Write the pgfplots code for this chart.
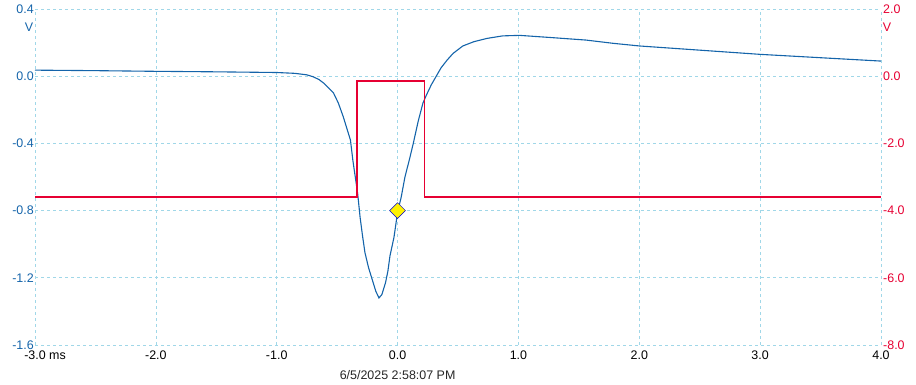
\documentclass[border=0pt]{standalone}
\usepackage{fontspec}
\setmainfont{Liberation Sans}
\usepackage{pgfplots}
\pgfplotsset{compat=1.18}
\definecolor{cblue}{RGB}{20,100,170}
\definecolor{cred}{RGB}{230,0,50}
\definecolor{cgrid}{RGB}{160,215,232}
\newcommand{\tf}{\fontsize{12.5}{15}\selectfont}
\begin{document}
\begin{tikzpicture}
\useasboundingbox (-35bp,-40bp) rectangle (881bp,345bp);
\begin{axis}[
  at={(0,0)}, anchor=south west,
  scale only axis, width=846bp, height=336bp,
  xmin=-3, xmax=4, ymin=-1.6, ymax=0.4,
  axis line style={draw=none},
  major tick length=0pt,
  grid=major,
  major grid style={cgrid, dash pattern=on 3bp off 3bp, line width=0.6bp},
  xtick={-3,-2,-1,0,1,2,3,4},
  xticklabels={-3.0\rlap{ ms},-2.0,-1.0,0.0,1.0,2.0,3.0,4.0},
  ytick={-1.6,-1.2,-0.8,-0.4,0,0.4},
  yticklabels={-1.6,-1.2,-0.8,-0.4,0.0,0.4},
  xticklabel style={font=\tf, text=black, inner sep=1bp, yshift=-5bp},
  yticklabel style={font=\tf, text=cblue, inner sep=1bp},
  clip=false,
]
\addplot[cblue, line width=1.1bp] coordinates {
(-3.0,0.036) (-2.5,0.033) (-2.0,0.029) (-1.5,0.026) (-1.0,0.022)
(-0.85,0.017) (-0.75,0.008) (-0.70,-0.003) (-0.65,-0.02) (-0.61,-0.042)
(-0.57,-0.07) (-0.53,-0.10) (-0.49,-0.16) (-0.45,-0.24) (-0.42,-0.31)
(-0.39,-0.38) (-0.37,-0.50) (-0.35,-0.60) (-0.33,-0.70) (-0.31,-0.84)
(-0.29,-0.95) (-0.27,-1.05) (-0.24,-1.14) (-0.21,-1.21) (-0.18,-1.28)
(-0.154,-1.32) (-0.13,-1.30) (-0.10,-1.23) (-0.08,-1.16) (-0.063,-1.07)
(-0.03,-0.96) (0.0,-0.81) (0.03,-0.72) (0.061,-0.60) (0.10,-0.49)
(0.13,-0.40) (0.17,-0.27) (0.21,-0.16) (0.24,-0.11) (0.28,-0.05)
(0.32,0.00) (0.36,0.05) (0.41,0.096) (0.46,0.136) (0.54,0.18)
(0.63,0.205) (0.74,0.225) (0.87,0.24) (1.01,0.243) (1.29,0.229)
(1.56,0.215) (1.78,0.196) (2.0,0.18) (2.5,0.155) (3.0,0.13)
(3.5,0.11) (4.0,0.09)
};
\addplot[only marks, mark=square*, mark size=5.6bp,
  mark options={rotate=45, fill=yellow, draw=blue!80!black, line width=0.5bp}]
  coordinates {(0,-0.80)};
\end{axis}
\begin{axis}[
  at={(0,0)}, anchor=south west,
  scale only axis, width=846bp, height=336bp,
  xmin=-3, xmax=4, ymin=-8, ymax=2,
  axis x line=none,
  axis y line*=right,
  axis line style={draw=none},
  major tick length=0pt,
  ytick={-8,-6,-4,-2,0,2},
  yticklabels={-8.0,-6.0,-4.0,-2.0,0.0,2.0},
  yticklabel style={font=\tf, text=cred, inner sep=1bp, xshift=1bp},
]
\addplot[cred, line width=1.6bp] coordinates {
(-3.0,-3.6) (-0.336,-3.6) (-0.336,-0.15) (0.222,-0.15) (0.222,-3.6) (4.0,-3.6)
};
\end{axis}
\node[font=\tf, text=cblue] at (-6bp,318bp) {V};
\node[font=\tf, text=cred] at (852bp,318bp) {V};
\node[font=\tf, text=black!85] at (362.6bp,-30bp) {6/5/2025 2:58:07 PM};
\end{tikzpicture}
\end{document}
